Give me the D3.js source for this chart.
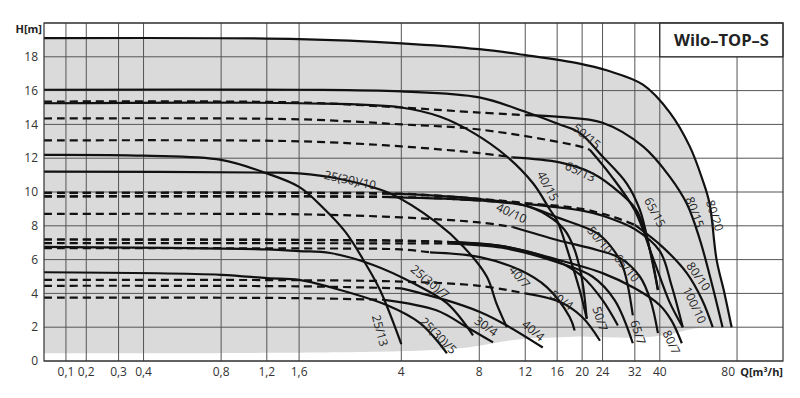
<!DOCTYPE html>
<html>
<head>
<meta charset="utf-8">
<script src="https://cdn.jsdelivr.net/npm/d3@7"></script>
<style>
  body { margin: 0; background: #fff; }
  svg { display: block; font-family: "Open Sans", sans-serif; }
</style>
</head>
<body>
<svg id="chart" width="800" height="398"></svg>
<script>
// printed Q ticks (the sheet is not evenly spaced)
const qTicks = [0.1, 0.2, 0.3, 0.4, 0.8, 1.2, 1.6, 4, 8, 12, 16, 20, 24, 32, 40, 80];
const qTickLabels = ['0,1', '0,2', '0,3', '0,4', '0,8', '1,2', '1,6', '4', '8', '12', '16', '20', '24', '32', '40', '80'];
// share of the plot width at which every tick sits on the sheet
const qTickShare = [0.0297, 0.0572, 0.1009, 0.1347, 0.2397, 0.3015, 0.3452, 0.4835, 0.589, 0.6512, 0.6944, 0.7282, 0.7558, 0.7995, 0.8333, 0.9378];
const hTicks = [0, 2, 4, 6, 8, 10, 12, 14, 16, 18];

// pump curves, [Q m3/h, H m]
const p25_13 = [[0, 12.2], [0.4, 12.15], [0.8, 11.9], [1.2, 11.1], [1.6, 10.3], [2.15, 9.1], [2.7, 7.6], [3.15, 5.8], [3.5, 4.2], [4.0, 1.0]];
const p25_10 = [[0, 11.2], [1.2, 11.15], [1.6, 11.1], [2.5, 10.8], [3.7, 9.95], [5.8, 8.2], [7.2, 6.75], [8.65, 5.0], [9.5, 3.4], [10.4, 2.0]];
const p25_7 = [[0, 6.75], [1.2, 6.6], [1.6, 6.5], [2.33, 6.39], [3.34, 5.68], [4.6, 4.61], [6.34, 3.42], [7.68, 1.52]];
const p25_5 = [[0, 5.25], [0.8, 5.1], [1.2, 4.9], [1.6, 4.8], [2.33, 4.37], [3.67, 3.3], [4.96, 2.24], [6.34, 0.46]];
const p30_4 = [[0, 3.75], [1.6, 3.72], [3.6, 3.62], [5.8, 3.0], [7.37, 2.0], [9.2, 1.1]];
const p40_4 = [[0, 4.45], [1.6, 4.42], [4, 4.3], [6.3, 3.6], [8.06, 2.9], [10.4, 2.1], [14.2, 0.8]];
const p50_4 = [[0, 4.8], [1.6, 4.78], [4, 4.7], [8, 4.45], [12, 4.0], [16.4, 3.5], [20, 2.6], [23.5, 1.2]];
const p40_7 = [[0, 6.68], [1.6, 6.66], [4, 6.6], [5.47, 6.43], [8.06, 6.15], [11.54, 5.38], [14.7, 4.37], [18, 2.6], [18.8, 1.8]];
const p50_7 = [[0, 7.19], [1.6, 7.17], [4, 7.12], [6.5, 7.04], [10, 6.8], [16, 5.9], [20, 5.0], [24, 3.6], [27.8, 2.1]];
const p65_7 = [[0, 6.98], [1.6, 6.97], [4, 6.96], [6.5, 6.95], [10, 6.7], [16, 5.85], [22, 5.0], [27, 3.6], [31.5, 1.05]];
const p80_7 = [[0, 7.19], [4, 7.12], [6.5, 7.04], [10, 6.8], [16, 6.0], [24, 5.2], [32, 4.3], [40, 3.3], [46, 2.4], [51.4, 1.05]];
const p40_10 = [[0, 9.95], [1.6, 9.95], [3.73, 9.9], [5.5, 9.8], [8.06, 9.58], [11.8, 9.23], [14.7, 8.64], [17.2, 7.75], [18.8, 6.57], [20, 4.79], [20.9, 2.5]];
const p50_10 = [[0, 9.74], [1.6, 9.74], [3.73, 9.7], [8, 9.5], [12, 9.2], [16, 8.5], [22.9, 7.57], [26, 6.8], [29, 5.6], [31.5, 2.7]];
const p65_10 = [[0, 8.7], [1.6, 8.68], [4, 8.5], [8, 8.2], [10.9, 7.93], [16, 7.16], [22.9, 6.57], [28.3, 6.1], [33.6, 5.0], [37, 3.6], [39.4, 1.65]];
const p80_10 = [[0, 9.95], [1.6, 9.95], [4, 9.9], [8, 9.6], [12, 9.35], [20, 9.0], [27, 8.5], [32, 8.05], [41.5, 6.74], [54, 5.2], [62, 3.6], [67.4, 2.0]];
const p100_10 = [[0, 9.74], [4, 9.7], [8, 9.5], [12, 9.3], [20, 8.9], [24, 8.6], [32, 7.8], [40, 6.5], [46, 4.5], [51.9, 2.0]];
const p65_13 = [[0, 13.05], [1.6, 13.0], [4, 12.7], [8, 12.3], [10.9, 12.05], [16.4, 11.75], [22.1, 11.1], [28.3, 9.95], [32.6, 8.9], [36.8, 6.6], [39.4, 4.2]];
const p40_15 = [[0, 15.25], [1.6, 15.25], [4, 15.0], [6, 14.45], [7.7, 13.5], [10.4, 12.1], [13, 10.5], [15.1, 8.95], [16, 8.3], [18, 6.15], [19.6, 4.2], [20.9, 2.5]];
const p50_15 = [[0, 16.05], [1.6, 16.05], [4, 15.95], [8, 15.6], [12, 14.75], [16.4, 14.0], [19.6, 13.5], [24, 12.1], [30, 10.5], [33.6, 8.95], [36.8, 6.57], [39.4, 4.2]];
const p65_15 = [[0, 14.35], [1.6, 14.3], [4, 14.0], [8, 13.7], [19.6, 12.7], [21.5, 12.5], [26, 11.0], [32, 8.9], [38, 6], [45, 3.5], [51.9, 2.0]];
const p80_15 = [[0, 15.35], [1.6, 15.3], [4, 15.0], [8, 14.7], [12, 14.55], [16.4, 14.45], [24, 14.1], [34.6, 12.7], [45.2, 10.9], [54, 9.3], [60.7, 7.2], [66, 5.0], [72.5, 2.0]];
const p80_20 = [[0, 19.1], [1.6, 19.05], [4, 18.8], [8, 18.45], [12, 18.1], [19.6, 17.6], [25, 17.2], [34.6, 16.35], [45.2, 14.7], [55.5, 12.7], [62.2, 10.7], [65.8, 9.3], [69.4, 6.0], [73.5, 4.0], [77.2, 2.0]];

// Q up to which each curve is printed dashed
const dashedTo = {
  '30/4': 3.6, '40/4': 4, '50/4': 12, '40/7': 5.47, '50/7': 6.5, '65/7': 6.5, '80/7': 6.5,
  '40/10': 3.73, '50/10': 3.73, '65/10': 10.9, '80/10': 32, '100/10': 12, '65/13': 10.9, '65/15': 21.5, '80/15': 12
};

// curve labels: [text, Q, H, angle]
const labels = [
  ['80/20', 68.4, 8.6, 72], ['80/15', 58.1, 8.8, 70], ['65/15', 38.4, 8.8, 62], ['50/15', 20.9, 13.3, 40],
  ['65/13', 19.7, 11.2, 25], ['40/15', 14.8, 10.35, 62], ['40/10', 10.8, 8.75, 25], ['50/10', 23.5, 7.15, 50],
  ['65/10', 30, 5.5, 50], ['80/10', 60, 5.0, 55], ['100/10', 58, 3.3, 65], ['40/7', 11.5, 4.97, 50],
  ['25(30)/7', 5.47, 4.67, 40], ['50/4', 16.7, 3.6, 35], ['25(30)/10', 2.8, 10.7, 12], ['25/13', 3.5, 1.8, 75],
  ['25(30)/5', 5.9, 1.5, 45], ['30/4', 8.6, 2.05, 35], ['40/4', 13, 1.8, 40], ['50/7', 23.5, 2.5, 72],
  ['65/7', 33, 1.7, 72], ['80/7', 46, 1.1, 65]
];

// lower edge of the grey field
const fillBottom = [[77.2, 2], [59.2, 2], [50.4, 1.7], [38.4, 1.4], [26.5, 1.35], [19.6, 1.5], [15.5, 1.35], [12.6, 1.4], [8.9, 1.05], [6.3, 0.46], [0, 0.46]];

const pumps = [
  ['25/13', p25_13], ['25(30)/10', p25_10], ['25(30)/7', p25_7], ['25(30)/5', p25_5], ['30/4', p30_4],
  ['40/4', p40_4], ['50/4', p50_4], ['40/7', p40_7], ['50/7', p50_7], ['65/7', p65_7], ['80/7', p80_7],
  ['40/10', p40_10], ['50/10', p50_10], ['65/10', p65_10], ['80/10', p80_10], ['100/10', p100_10],
  ['65/13', p65_13], ['40/15', p40_15], ['50/15', p50_15], ['65/15', p65_15], ['80/15', p80_15], ['80/20', p80_20]
];

const margin = { top: 23, right: 17, bottom: 37, left: 44 };
const width = 800 - margin.left - margin.right;
const height = 398 - margin.top - margin.bottom;

const svg = d3.select('#chart');
const g = svg.append('g').attr('transform', `translate(${margin.left},${margin.top})`);

const x = d3.scaleLinear()
  .domain([0, ...qTicks, 100])
  .range([0, ...qTickShare, 1].map(s => s * width));
const y = d3.scaleLinear().domain([0, 20]).range([height, 0]);

const line = d3.line()
  .x(d => x(d[0]))
  .y(d => y(d[1]))
  .curve(d3.curveCatmullRom.alpha(0.5));

// grey field under the envelope
const topPath = line(p80_20);
const bottomPath = d3.line().x(d => x(d[0])).y(d => y(d[1])).curve(d3.curveBasis)(fillBottom);
g.append('path')
  .attr('d', topPath + 'L' + bottomPath.slice(1) + 'L' + x(0) + ',' + y(19.1) + 'Z')
  .attr('fill', '#dadada');

// grid
g.selectAll('.hgrid')
  .data(hTicks.concat([20]))
  .enter().append('line')
  .attr('x1', 0).attr('x2', width)
  .attr('y1', d => y(d)).attr('y2', d => y(d))
  .attr('stroke', '#555').attr('stroke-width', 1);

g.selectAll('.vgrid')
  .data(qTicks)
  .enter().append('line')
  .attr('x1', d => x(d)).attr('x2', d => x(d))
  .attr('y1', d => (d === 80 ? y(18) : 0)).attr('y2', height)
  .attr('stroke', '#555').attr('stroke-width', 1);

// curves: dashed part first, solid after
pumps.forEach(function (p) {
  const name = p[0], pts = p[1];
  const cut = dashedTo[name];
  let dashPts = [], solidPts = pts;
  if (cut) {
    dashPts = pts.filter(d => d[0] <= cut);
    solidPts = pts.filter(d => d[0] >= cut);
  }
  if (dashPts.length > 1) {
    g.append('path')
      .attr('d', line(dashPts))
      .attr('fill', 'none')
      .attr('stroke', '#111')
      .attr('stroke-width', 2.2)
      .attr('stroke-dasharray', '8,5');
  }
  if (solidPts.length > 1) {
    g.append('path')
      .attr('d', line(solidPts))
      .attr('fill', 'none')
      .attr('stroke', '#111')
      .attr('stroke-width', 2.2);
  }
});

// curve labels
g.selectAll('.clabel')
  .data(labels)
  .enter().append('text')
  .attr('transform', d => `translate(${x(d[1])},${y(d[2])}) rotate(${d[3]})`)
  .attr('text-anchor', 'middle')
  .attr('dy', '0.35em')
  .attr('font-size', 12)
  .attr('fill', '#222')
  .text(d => d[0]);

// title box
g.append('rect')
  .attr('x', x(40)).attr('y', 0)
  .attr('width', width - x(40)).attr('height', y(18))
  .attr('fill', '#fff').attr('stroke', '#222').attr('stroke-width', 1.2);
g.append('text')
  .attr('x', (x(40) + width) / 2).attr('y', y(19))
  .attr('dy', '0.35em')
  .attr('text-anchor', 'middle')
  .attr('font-size', 16.5).attr('font-weight', 'bold')
  .attr('fill', '#222')
  .text('Wilo–TOP–S');

// frame
g.append('rect')
  .attr('x', 0).attr('y', 0).attr('width', width).attr('height', height)
  .attr('fill', 'none').attr('stroke', '#333').attr('stroke-width', 1.2);

// axes labels
g.selectAll('.ytick')
  .data(hTicks)
  .enter().append('text')
  .attr('x', -6).attr('y', d => y(d))
  .attr('dy', '0.35em')
  .attr('text-anchor', 'end')
  .attr('font-size', 12).attr('fill', '#333')
  .text(d => d);

g.selectAll('.xtick')
  .data(qTicks)
  .enter().append('text')
  .attr('x', (d, i) => x(d) + (d === 80 ? -2 : 0)).attr('y', height + 15)
  .attr('text-anchor', (d) => (d === 80 ? 'end' : 'middle'))
  .attr('font-size', 12).attr('fill', '#333')
  .text((d, i) => qTickLabels[i]);

g.append('text')
  .attr('x', -2).attr('y', 10)
  .attr('text-anchor', 'end')
  .attr('font-size', 11).attr('font-weight', 'bold').attr('fill', '#222')
  .text('H[m]');

g.append('text')
  .attr('x', width).attr('y', height + 15)
  .attr('text-anchor', 'end')
  .attr('font-size', 11).attr('font-weight', 'bold').attr('fill', '#222')
  .text('Q[m³/h]');
</script>
</body>
</html>
